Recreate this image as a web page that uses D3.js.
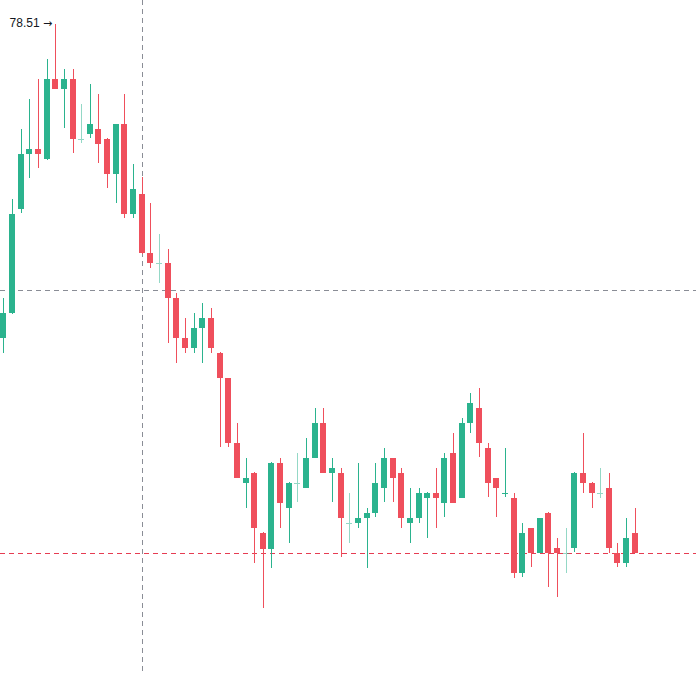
<!DOCTYPE html>
<html>
<head>
<meta charset="utf-8">
<script src="https://cdn.jsdelivr.net/npm/d3@7/dist/d3.min.js"></script>
<style>
  html, body { margin: 0; padding: 0; background: #fff; }
  svg { display: block; }
</style>
</head>
<body>
<div id="chart"></div>
<script>
// OHLC values, one entry per bar (oldest first)
const opens = [
  70.66, 71.29, 73.89, 75.26, 75.39, 75.14, 77.14, 76.89, 77.14, 75.64,
  75.76, 75.89, 75.64, 74.76, 76.01, 73.76, 74.26, 72.79, 72.54, 72.54,
  71.66, 70.66, 70.41, 70.91, 71.16, 70.29, 69.66, 68.04, 67.04, 67.29,
  65.79, 65.39, 67.54, 66.41, 67.04, 66.91, 67.66, 68.54, 67.29, 67.29,
  66.04, 66.04, 66.16, 66.29, 66.91, 67.66, 67.29, 66.04, 66.16, 66.66,
  66.79, 66.54, 67.79, 66.66, 68.54, 68.91, 67.91, 67.16, 66.77, 66.66,
  64.79, 65.91, 65.29, 66.29, 65.41, 65.29, 65.41, 67.29, 67.04, 66.79,
  66.91, 65.29, 65.04, 65.79
];
const highs = [
  71.66, 74.14, 75.89, 76.64, 77.14, 77.64, 78.51, 77.39, 77.39, 76.51,
  77.01, 76.76, 75.65, 76.02, 76.76, 75.01, 74.69, 74.04, 73.26, 72.89,
  71.79, 71.16, 71.29, 71.54, 71.41, 70.30, 69.67, 68.54, 67.66, 67.30,
  65.80, 67.55, 67.66, 67.05, 67.79, 68.16, 68.91, 68.91, 67.66, 67.41,
  66.79, 67.54, 66.41, 67.54, 67.91, 67.67, 67.41, 66.91, 66.91, 66.80,
  67.41, 67.79, 68.29, 68.66, 69.29, 69.41, 68.04, 67.17, 67.91, 66.79,
  66.04, 65.92, 66.17, 66.30, 65.66, 65.91, 67.30, 68.29, 67.05, 67.41,
  67.29, 65.54, 66.16, 66.41
];
const lows = [
  70.29, 71.27, 73.79, 74.66, 74.91, 75.12, 76.88, 75.91, 75.29, 75.54,
  75.66, 75.04, 74.41, 74.04, 73.66, 73.66, 72.77, 72.41, 72.04, 70.54,
  70.04, 70.29, 70.29, 70.04, 70.29, 67.94, 67.94, 67.15, 66.41, 65.04,
  63.91, 64.91, 65.91, 65.54, 66.56, 66.90, 67.65, 67.28, 66.56, 65.19,
  65.54, 65.91, 64.91, 66.19, 66.56, 66.56, 65.91, 65.54, 66.04, 65.66,
  65.91, 66.19, 66.53, 66.65, 68.29, 67.69, 66.69, 66.19, 66.69, 64.66,
  64.69, 64.94, 65.28, 64.44, 64.19, 64.79, 65.31, 66.79, 66.41, 66.66,
  65.28, 64.94, 64.94, 65.28
];
const closes = [
  71.29, 73.76, 75.26, 75.39, 75.26, 77.14, 76.89, 77.14, 75.64, 75.64,
  76.01, 75.51, 74.76, 76.01, 73.76, 74.39, 72.79, 72.54, 72.54, 71.66,
  70.66, 70.41, 70.91, 71.16, 70.41, 69.66, 68.04, 67.16, 67.16, 65.91,
  65.39, 67.54, 66.54, 67.04, 67.04, 67.66, 68.54, 67.29, 67.41, 66.16,
  66.04, 66.16, 66.29, 67.04, 67.66, 67.16, 66.16, 66.16, 66.79, 66.79,
  66.66, 67.66, 66.54, 68.54, 69.04, 68.04, 67.04, 66.91, 66.79, 64.79,
  65.79, 65.29, 66.16, 65.29, 65.29, 65.29, 67.29, 67.04, 66.79, 66.79,
  65.41, 65.04, 65.66, 65.29
];

// crosshair position (bar index, price)
const crosshairBar = 16;
const crosshairPrice = 71.86;

const width = 696;
const height = 673;
const upColor = '#2bb38e';
const downColor = '#ef4f5c';

const bars = opens.map((o, i) => ({
  i, open: o, high: highs[i], low: lows[i], close: closes[i]
}));

const svg = d3.select('#chart')
  .append('svg')
  .attr('width', width)
  .attr('height', height)
  .attr('viewBox', `0 0 ${width} ${height}`);

svg.append('rect').attr('width', width).attr('height', height).attr('fill', '#fff');

// --- scales
const x = d3.scalePoint()
  .domain(d3.range(bars.length))
  .range([3.3, 634.8]);

const y = d3.scaleLinear()
  .domain([62.285, 79.11])
  .range([height, 0]);

const bodyW = 6;
const px = v => Math.round(v);

// --- crosshair + last price line (behind candles)
const lines = svg.append('g').attr('class', 'lines');

lines.append('line')
  .attr('x1', px(x(crosshairBar)) + 0.5)
  .attr('x2', px(x(crosshairBar)) + 0.5)
  .attr('y1', 0)
  .attr('y2', height)
  .attr('stroke', '#8a8d96')
  .attr('stroke-width', 1)
  .attr('stroke-dasharray', '5,4');

lines.append('line')
  .attr('x1', 0)
  .attr('x2', width)
  .attr('y1', px(y(crosshairPrice)) + 0.5)
  .attr('y2', px(y(crosshairPrice)) + 0.5)
  .attr('stroke', '#8a8d96')
  .attr('stroke-width', 1)
  .attr('stroke-dasharray', '5,4');

// last price line, coloured like the last bar
const lastBar = bars[bars.length - 1];
const lastY = px(y(lastBar.close)) + 0.5;
lines.append('path')
  .attr('class', 'last-price')
  .attr('d', `M0,${lastY}H${width}`)
  .attr('fill', 'none')
  .style('stroke', lastBar.close >= lastBar.open ? upColor : '#e63c52')
  .style('stroke-width', '1px')
  .style('stroke-dasharray', '5,4');

// --- candles
const candle = svg.append('g').attr('class', 'candles')
  .selectAll('g')
  .data(bars)
  .join('g')
  .attr('fill', d => d.close >= d.open ? upColor : downColor)
  .attr('stroke', d => d.close >= d.open ? upColor : downColor)
  .attr('opacity', d => d.close === d.open ? 0.5 : 1);

candle.append('line')
  .attr('x1', d => px(x(d.i)) + 0.5)
  .attr('x2', d => px(x(d.i)) + 0.5)
  .attr('y1', d => px(y(d.high)))
  .attr('y2', d => px(y(d.low)))
  .attr('stroke-width', 1);

candle.append('rect')
  .attr('x', d => px(x(d.i) - bodyW / 2))
  .attr('y', d => px(y(Math.max(d.open, d.close))))
  .attr('width', bodyW)
  .attr('height', d => Math.max(1, px(y(Math.min(d.open, d.close))) - px(y(Math.max(d.open, d.close)))))
  .attr('stroke', 'none');

// --- highest high marker
const topIdx = d3.maxIndex(bars, d => d.high);
const marker = svg.append('text')
  .attr('x', x(topIdx) - 3)
  .attr('y', y(bars[topIdx].high))
  .attr('text-anchor', 'end')
  .attr('dominant-baseline', 'middle')
  .style('font-family', '"Liberation Sans", Arial, sans-serif')
  .style('font-size', '12px')
  .attr('fill', '#131722');

marker.append('tspan').text(d3.format('.2f')(bars[topIdx].high) + ' ');
marker.append('tspan')
  .style('font-family', '"DejaVu Sans", sans-serif')
  .style('font-size', '11px')
  .text('\u2192');
</script>
</body>
</html>
